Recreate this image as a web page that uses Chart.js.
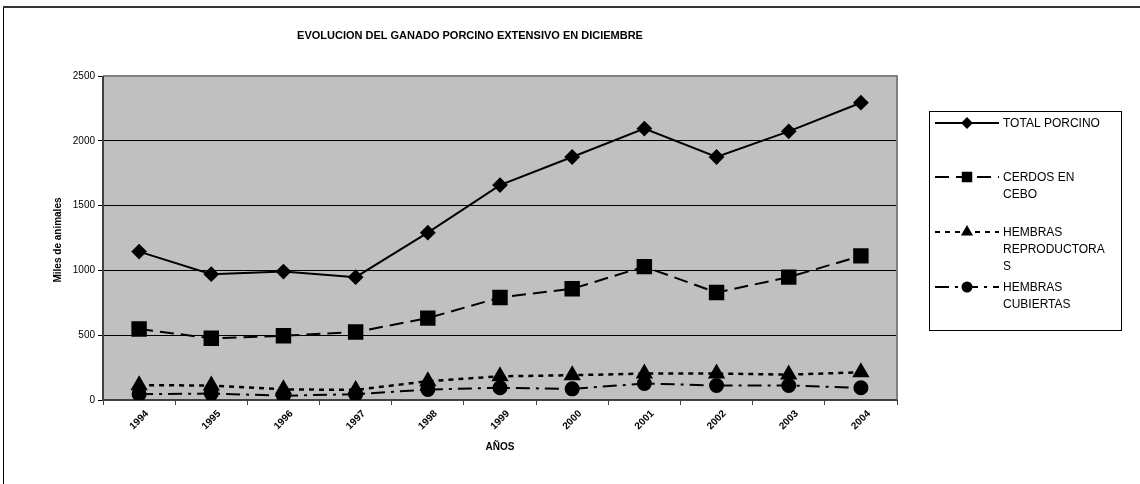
<!DOCTYPE html>
<html>
<head>
<meta charset="utf-8">
<script src="https://cdn.jsdelivr.net/npm/chart.js@4/dist/chart.umd.min.js"></script>
<style>
  html, body { margin: 0; padding: 0; background: #fff; }
  #wrap { width: 1140px; height: 484px; position: relative; }
</style>
</head>
<body>
<div id="wrap"><canvas id="porcino"></canvas></div>
<script>
// datos (miles de animales)
var years = ['1994', '1995', '1996', '1997', '1998', '1999', '2000', '2001', '2002', '2003', '2004'];
var totalPorcino = [1145, 971, 991, 948, 1291, 1658, 1875, 2094, 1875, 2073, 2294];
var cerdosCebo = [548, 476, 496, 524, 632, 791, 858, 1029, 829, 948, 1112];
var hembrasRepro = [114, 112, 82, 78, 145, 183, 191, 204, 204, 196, 214];
var hembrasCubiertas = [45, 50, 33, 45, 81, 94, 86, 127, 112, 112, 94];

var seriesNames = ['TOTAL PORCINO', 'CERDOS EN CEBO', 'HEMBRAS REPRODUCTORAS', 'HEMBRAS CUBIERTAS'];
// el texto de la leyenda va partido como en el original
var legendLines = [['TOTAL PORCINO'], ['CERDOS EN', 'CEBO'], ['HEMBRAS', 'REPRODUCTORA', 'S'], ['HEMBRAS', 'CUBIERTAS']];
var yTicks = [0, 500, 1000, 1500, 2000, 2500];

var chartTitle = 'EVOLUCION DEL GANADO PORCINO EXTENSIVO EN DICIEMBRE';
var yTitle = 'Miles de animales';
var xTitle = 'AÑOS';

// fondo gris, marco del area de trazado, titulos y leyenda propia
var excelLook = {
    id: 'excelLook',
    beforeDraw: function (chart) {
        var ctx = chart.ctx, a = chart.chartArea;
        ctx.save();
        ctx.fillStyle = '#fff';
        ctx.fillRect(0, 0, chart.width, chart.height);
        ctx.strokeStyle = '#000';
        ctx.lineWidth = 1;
        ctx.beginPath();
        ctx.moveTo(3.5, chart.height);
        ctx.lineTo(3.5, 6);
        ctx.stroke();
        ctx.strokeStyle = '#333';
        ctx.lineWidth = 2;
        ctx.beginPath();
        ctx.moveTo(3, 7);
        ctx.lineTo(chart.width, 7);
        ctx.stroke();
        ctx.fillStyle = '#c0c0c0';
        ctx.fillRect(a.left, a.top, a.right - a.left, a.bottom - a.top);
        ctx.restore();
    },
    beforeDatasetsDraw: function (chart) {
        var ctx = chart.ctx, a = chart.chartArea;
        ctx.save();
        ctx.strokeStyle = '#808080';
        ctx.lineWidth = 2;
        ctx.beginPath();
        ctx.moveTo(a.left, a.top);
        ctx.lineTo(a.right, a.top);
        ctx.lineTo(a.right, a.bottom);
        ctx.stroke();
        ctx.strokeStyle = '#404040';
        ctx.beginPath();
        ctx.moveTo(a.left, a.top);
        ctx.lineTo(a.left, a.bottom);
        ctx.lineTo(a.right, a.bottom);
        ctx.stroke();
        ctx.restore();
    },
    afterDraw: function (chart) {
        var ctx = chart.ctx;
        ctx.save();
        ctx.fillStyle = '#000';
        ctx.textBaseline = 'middle';
        ctx.textAlign = 'center';
        ctx.font = 'bold 11px Arial, "Liberation Sans", sans-serif';
        ctx.fillText(chartTitle, 470, 36);
        ctx.font = 'bold 10px Arial, "Liberation Sans", sans-serif';
        ctx.fillText(xTitle, 500, 447);
        ctx.save();
        ctx.translate(58, 240);
        ctx.rotate(-Math.PI / 2);
        ctx.fillText(yTitle, 0, 0);
        ctx.restore();

        // leyenda
        ctx.strokeStyle = '#000';
        ctx.lineWidth = 1;
        ctx.strokeRect(929.5, 111.5, 192, 219);
        var rowY = [123, 177, 232, 287];
        var lineH = 16.8;
        chart.data.datasets.forEach(function (ds, i) {
            var y = rowY[i];
            ctx.strokeStyle = '#000';
            ctx.lineWidth = 2;
            ctx.setLineDash(ds.borderDash || []);
            ctx.beginPath();
            ctx.moveTo(935, y);
            ctx.lineTo(999, y);
            ctx.stroke();
            ctx.setLineDash([]);
            ctx.fillStyle = '#000';
            Chart.helpers.drawPoint(ctx, {
                pointStyle: ds.pointStyle,
                radius: ds.legendRadius,
                rotation: 0,
                borderWidth: 1
            }, 967, y);
            ctx.font = '12px Arial, "Liberation Sans", sans-serif';
            ctx.textAlign = 'left';
            legendLines[i].forEach(function (t, k) {
                ctx.fillText(t, 1003, y + k * lineH + 1);
            });
        });
        ctx.restore();
    }
};

var ctx = document.getElementById('porcino').getContext('2d');
var chartPorcino = new Chart(ctx, {
    type: 'line',
    plugins: [excelLook],
    data: {
        labels: years,
        datasets: [{
            label: seriesNames[0],
            data: totalPorcino,
            borderColor: '#000',
            backgroundColor: '#000',
            borderWidth: 2,
            pointStyle: 'rectRot',
            pointRadius: 6.5,
            legendRadius: 4.5,
            order: 4
        }, {
            label: seriesNames[1],
            data: cerdosCebo,
            borderColor: '#000',
            backgroundColor: '#000',
            borderWidth: 2,
            borderDash: [14, 7],
            pointStyle: 'rect',
            pointRadius: 9.5,
            legendRadius: 6,
            order: 3
        }, {
            label: seriesNames[2],
            data: hembrasRepro,
            borderColor: '#000',
            backgroundColor: '#000',
            borderWidth: 2.5,
            borderDash: [5, 5],
            pointStyle: 'triangle',
            pointRadius: 7.5,
            legendRadius: 5,
            order: 2
        }, {
            label: seriesNames[3],
            data: hembrasCubiertas,
            borderColor: '#000',
            backgroundColor: '#000',
            borderWidth: 2,
            borderDash: [14, 6, 3, 6],
            pointStyle: 'circle',
            pointRadius: 6.5,
            legendRadius: 4.5,
            order: 1
        }]
    },
    options: {
        responsive: true,
        maintainAspectRatio: false,
        animation: false,
        layout: { padding: { left: 0, top: 76, right: 243, bottom: 0 } },
        plugins: {
            legend: { display: false },
            title: { display: false },
            tooltip: { enabled: false }
        },
        elements: {
            line: { tension: 0 },
            point: { borderWidth: 1, borderColor: '#000' }
        },
        scales: {
            x: {
                offset: true,
                grid: { offset: true, drawOnChartArea: false, drawTicks: true, tickLength: 5, color: '#404040', lineWidth: 1 },
                border: { display: false },
                ticks: {
                    color: '#000',
                    font: { family: 'Arial, "Liberation Sans", sans-serif', size: 10, weight: 'bold' },
                    minRotation: 45,
                    maxRotation: 45,
                    labelOffset: 8,
                    padding: 3
                },
                afterFit: function (scale) { scale.height = 84; }
            },
            y: {
                min: 0,
                max: 2500,
                afterBuildTicks: function (scale) {
                    scale.ticks = yTicks.map(function (v) { return { value: v }; });
                },
                grid: { color: '#000', lineWidth: 1, drawTicks: true, tickLength: 5 },
                border: { display: false },
                ticks: {
                    color: '#000',
                    font: { family: 'Arial, "Liberation Sans", sans-serif', size: 10 },
                    padding: 3,
                    callback: function (v) { return String(v); }
                },
                afterFit: function (scale) { scale.width = 103; }
            }
        }
    }
});
</script>
</body>
</html>
